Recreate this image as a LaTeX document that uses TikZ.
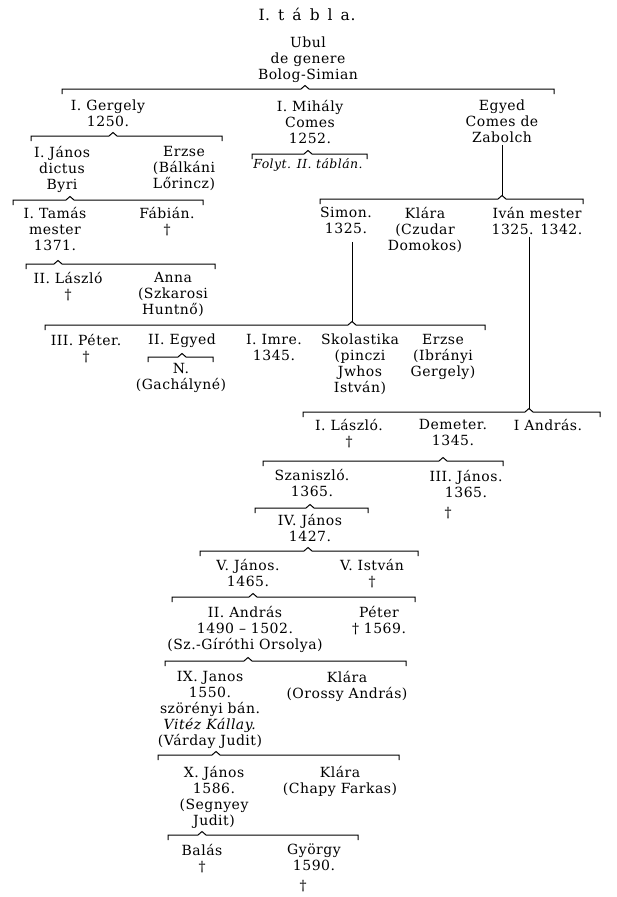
\documentclass[tikz,border=0pt]{standalone}
\usepackage{fontspec}
\setmainfont{DejaVu Serif}[LetterSpace=3.5]
\usetikzlibrary{calc}
\newcommand\pfont{\fontsize{14}{16}\selectfont}
\newcommand\tfont{\fontsize{15.5}{16}\selectfont}
\newcommand\ifont{\fontsize{12.5}{16}\selectfont\itshape}
\newcommand\brk[4]{%
  \draw[brkline] (#1,#4+5) -- (#1,#4) -- (#3-4,#4) -- (#3,#4-3.5) -- (#3+4,#4) -- (#2,#4) -- (#2,#4+5);}
\begin{document}
\begin{tikzpicture}[x=1pt,y=-1pt,
  person/.style={align=center, inner sep=0pt, anchor=north, font=\pfont,
    execute at begin node={\rule{0pt}{10.5pt}}},
  brkline/.style={line width=1pt, line cap=butt, line join=miter}]
\useasboundingbox[fill=white] (0,0) rectangle (617,897);

\node[person, font=\tfont] (title) at (307,8) {I.\, t\, á\, b\, l\, a.};
\node[person] (ubul) at (308,37) {Ubul\\de genere\\Bolog-Simian};
\brk{62}{554}{305}{89}

\node[person] (gergely) at (108,100) {I. Gergely\\1250.};
\node[person] (mihaly) at (310,100) {I. Mihály\\Comes\\1252.};
\node[person] (egyed) at (502,100) {Egyed\\Comes de\\Zabolch};

\brk{31}{222}{113}{136}
\node[person] (janos1) at (62,146) {I. János\\dictus\\Byri};
\node[person] (erzse1) at (184,146) {Erzse\\(Bálkáni\\Lőrincz)};

\brk{252}{367}{308}{154}
\node[person, font=\ifont] (folyt) at (308,158) {Folyt. II. táblán.};

\coordinate (cD) at (502,195.5);
\draw[brkline] (cD |- egyed.south) ++(0,2) -- (cD);
\brk{320}{583}{502}{199}
\brk{13}{203}{70}{200}

\node[person] (tamas) at (55,207) {I. Tamás\\mester\\1371.};
\node[person] (fabian) at (167,207) {Fábián.\\†};
\node[person] (simon) at (346,207) {Simon.\\1325.};
\node[person] (klara1) at (425,207) {Klára\\(Czudar\\Domokos)};
\node[person] (ivan) at (537,207) {Iván mester\\1325. 1342.};

\brk{26}{215}{58}{264}
\node[person] (laszlo2) at (68,272) {II. László\\†};
\node[person] (anna) at (173,272) {Anna\\(Szkarosi\\Huntnő)};

\coordinate (cG) at (352,321.5);
\draw[brkline] ($(cG |- simon.south)+(0,8)$) -- (cG);
\brk{45}{485}{352}{325}

\node[person] (peter3) at (86,334) {III. Péter.\\†};
\node[person] (egyed2) at (182,334) {II. Egyed};
\brk{148}{213}{182}{357}
\node[person] (nn) at (181,363) {N.\\(Gachályné)};
\node[person] (imre) at (274,334) {I. Imre.\\1345.};
\node[person] (skol) at (360,334) {Skolastika\\(pinczi\\Jwhos\\István)};
\node[person] (erzse2) at (443,334) {Erzse\\(Ibrányi\\Gergely)};

\coordinate (cI) at (529,408.5);
\draw[brkline] ($(cI |- ivan.south)+(0,2)$) -- (cI);
\brk{303}{600}{529}{412}

\node[person] (laszlo1) at (349,419) {I. László.\\†};
\node[person] (demeter) at (453,419) {Demeter.\\1345.};
\node[person] (andras1) at (548,419) {I András.};

\brk{263}{503}{443}{461}
\node[person] (szan) at (312,469) {Szaniszló.\\1365.};
\node[person] (janos3) at (466,470) {III. János.\\1365.};
\node[person] (janos3d) at (448,507) {†};

\brk{255}{368}{310}{508}
\node[person] (janos4) at (310,514) {IV. János\\1427.};

\brk{200}{418}{308}{551}
\node[person] (janos5) at (248,559) {V. János.\\1465.};
\node[person] (istvan5) at (372,559) {V. István\\†};

\brk{172}{415}{253}{597}
\node[person] (andras2) at (245,606) {II. András\\1490 – 1502.\\(Sz.-Gíróthi Orsolya)};
\node[person] (peter) at (379,606) {Péter\\† 1569.};

\brk{165}{406}{248}{661}
\node[person] (janos9) at (210,671) {IX. Janos\\1550.\\szörényi bán.\\\textit{Vitéz Kállay.}\\(Várday Judit)};
\node[person] (klara2) at (347,671) {Klára\\(Orossy András)};

\brk{158}{399}{216}{755}
\node[person] (janos10) at (214,766) {X. János\\1586.\\(Segnyey\\Judit)};
\node[person] (klara3) at (340,766) {Klára\\(Chapy Farkas)};

\brk{168}{358}{202}{835}
\node[person] (balas) at (202,844) {Balás\\†};
\node[person] (gyorgy) at (314,844) {György\\1590.};
\node[person] (gyorgyd) at (303,880) {†};
\end{tikzpicture}
\end{document}
